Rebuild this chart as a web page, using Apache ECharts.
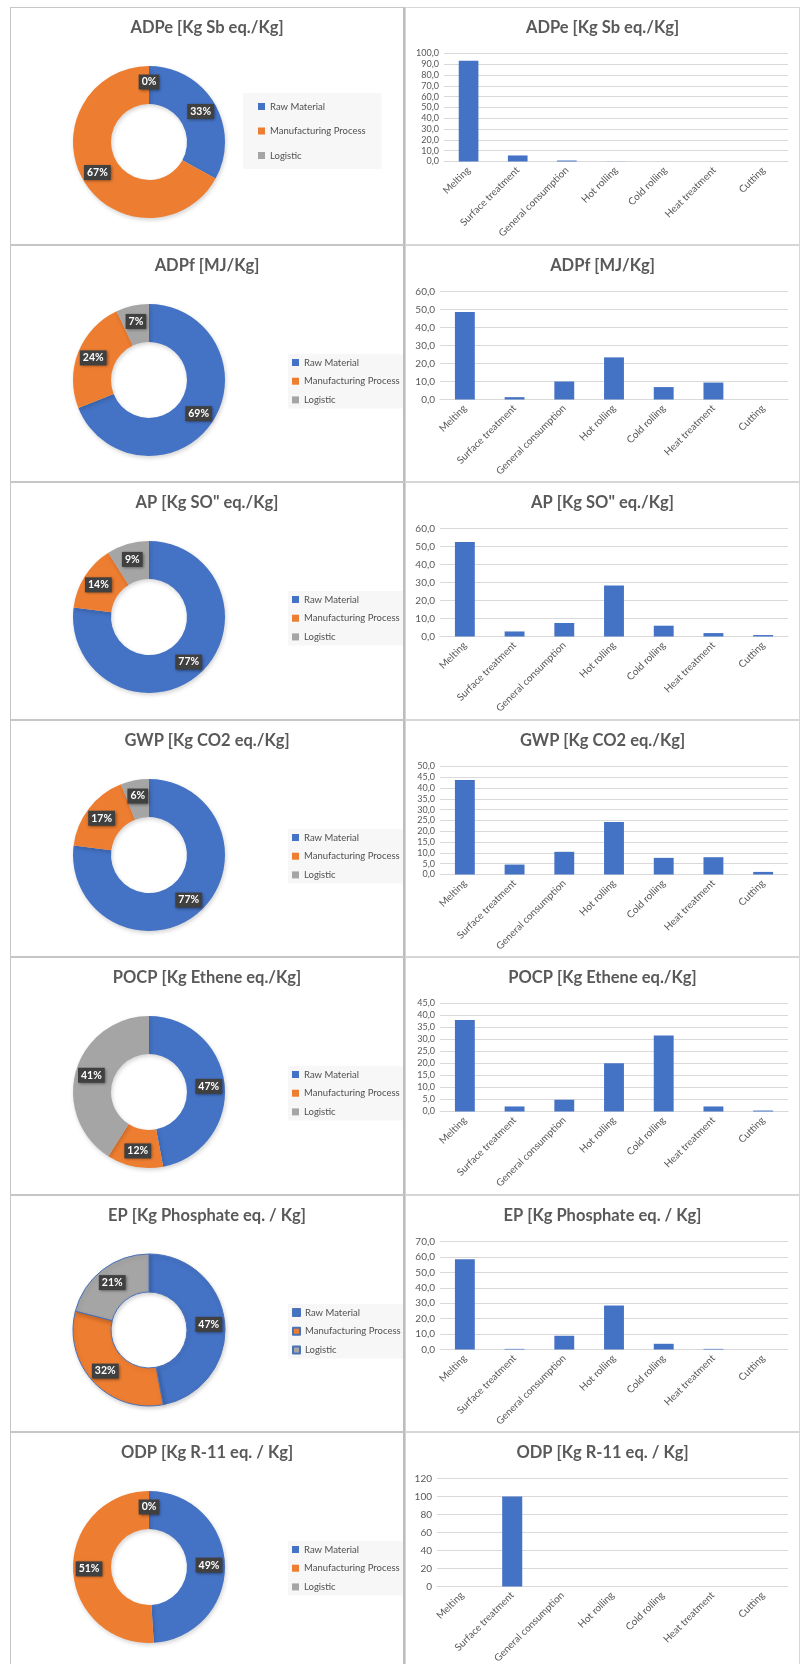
<!DOCTYPE html>
<html>
<head>
<meta charset="utf-8">
<script src="https://cdn.jsdelivr.net/npm/echarts@6/dist/echarts.min.js"></script>
<style>
  html, body { margin: 0; padding: 0; background: #fff; }
  #page { position: relative; width: 802px; height: 1664px; overflow: hidden; background: #fff; }
  .panel { position: absolute; box-sizing: border-box; background: #fff; }
  .left { border: 1px solid #c6c6c6; border-right: 2px solid #bdbdbd; }
  .right { border: 1px solid #d6d6d6; }
  .chart { position: absolute; left: 0; top: 0; }
</style>
</head>
<body>
<div id="page"></div>
<script>
// Process steps shown on every bar chart
const categories = ['Melting', 'Surface treatment', 'General consumption', 'Hot rolling', 'Cold rolling', 'Heat treatment', 'Cutting'];
// Life-cycle stages shown on every donut
const sources = ['Raw Material', 'Manufacturing Process', 'Logistic'];

// Impact category titles
const titles = [
  'ADPe [Kg Sb eq./Kg]',
  'ADPf [MJ/Kg]',
  'AP [Kg SO" eq./Kg]',
  'GWP [Kg CO2 eq./Kg]',
  'POCP [Kg Ethene eq./Kg]',
  'EP [Kg Phosphate eq. / Kg]',
  'ODP [Kg R-11 eq. / Kg]'
];

// Share of each life-cycle stage (%), order follows `sources`
const adpeShares = [33, 67, 0];
const adpfShares = [69, 24, 7];
const apShares   = [77, 14, 9];
const gwpShares  = [77, 17, 6];
const pocpShares = [47, 12, 41];
const epShares   = [47, 32, 21];
const odpShares  = [49, 51, 0];

// Contribution of each process step (%), order follows `categories`
const adpeSteps = [93.4, 5.6, 0.9, 0.1, 0, 0, 0];
const adpfSteps = [48.6, 1.3, 10.0, 23.4, 6.9, 9.4, 0];
const apSteps   = [52.5, 2.8, 7.5, 28.3, 6.0, 1.9, 0.8];
const gwpSteps  = [43.7, 4.6, 10.5, 24.3, 7.7, 8.0, 1.2];
const pocpSteps = [38.1, 2.1, 4.9, 20.1, 31.7, 2.1, 0.4];
const epSteps   = [58.5, 0.4, 8.9, 28.5, 3.7, 0.4, 0];
const odpSteps  = [0, 100, 0, 0, 0, 0, 0];

// Value-axis tick setup for each bar chart
const axisMax      = [100, 60, 60, 50, 45, 70, 120];
const axisInterval = [10, 10, 10, 5, 5, 10, 20];
const axisDecimals = [1, 1, 1, 1, 1, 1, 0];

const shareSets = [adpeShares, adpfShares, apShares, gwpShares, pocpShares, epShares, odpShares];
const stepSets  = [adpeSteps, adpfSteps, apSteps, gwpSteps, pocpSteps, epSteps, odpSteps];

// Layout and styling
const FONT = 'Lato, "Open Sans", sans-serif';
const TEXT = '#595959';
const PALETTE = ['#4472c4', '#ed7d31', '#a5a5a5'];
const ROW_TOP = 7, ROW_H = 237.5;
const LEFT_X = 10, RIGHT_X = 405, PANEL_W = 395;
const gridLeft = [38, 34, 34, 34, 34, 34, 31];
const outlined = [false, false, false, false, false, true, false];

const page = document.getElementById('page');

function makePanel(x, y, cls) {
  const p = document.createElement('div');
  p.className = 'panel ' + cls;
  p.style.left = x + 'px';
  p.style.top = y + 'px';
  p.style.width = PANEL_W + 'px';
  p.style.height = ROW_H + 'px';
  page.appendChild(p);
  const c = document.createElement('div');
  c.className = 'chart';
  c.style.width = p.clientWidth + 'px';
  c.style.height = p.clientHeight + 'px';
  p.appendChild(c);
  return c;
}

function titleOpt(text) {
  return {
    text: text, left: 'center', top: 11, padding: 0,
    textStyle: { fontFamily: FONT, fontSize: 16.5, fontWeight: 'bold', color: TEXT }
  };
}

titles.forEach(function (title, i) {
  const top = ROW_TOP + i * ROW_H;

  // Donut: share by life-cycle stage
  const pieEl = makePanel(LEFT_X, top, 'left');
  const pie = echarts.init(pieEl, null, { renderer: 'canvas' });
  const first = i === 0;
  const itemStyle = {
    shadowColor: 'rgba(0,0,0,0.18)', shadowBlur: 4, shadowOffsetX: 1, shadowOffsetY: 2
  };
  if (outlined[i]) { itemStyle.borderColor = '#4a72b8'; itemStyle.borderWidth = 1; }
  pie.setOption({
    animation: false,
    color: PALETTE,
    title: titleOpt(title),
    legend: {
      orient: 'vertical',
      left: first ? 232 : 277,
      top: first ? 85 : 108,
      padding: first ? [8, 16, 8, 15] : [3, 5, 3, 4],
      itemGap: first ? 13.5 : 7.7,
      itemWidth: 7, itemHeight: 7, icon: 'rect',
      backgroundColor: '#f7f7f7',
      selectedMode: false,
      data: sources,
      textStyle: { fontFamily: FONT, fontSize: 9.5, color: '#505050', lineHeight: 11 }
    },
    series: [{
      type: 'pie',
      center: [138, 134],
      radius: [38, 76],
      startAngle: 90,
      clockwise: true,
      silent: true,
      emphasis: { disabled: true },
      itemStyle: itemStyle,
      labelLine: { show: false },
      label: {
        show: true, position: 'inside', formatter: '{c}%',
        fontFamily: FONT, fontSize: 10.5, fontWeight: 'bold', color: '#fff', lineHeight: 11,
        backgroundColor: '#404040', padding: [2, 3, 2, 3],
        shadowColor: 'rgba(0,0,0,0.5)', shadowBlur: 3, shadowOffsetX: 1, shadowOffsetY: 1
      },
      data: sources.map(function (n, k) { return { name: n, value: shareSets[i][k] }; })
    }]
  });

  // Column chart: contribution by process step
  const barEl = makePanel(RIGHT_X, top, 'right');
  const bar = echarts.init(barEl, null, { renderer: 'canvas' });
  const dec = axisDecimals[i];
  const tickCount = axisMax[i] / axisInterval[i] + 1;
  bar.setOption({
    animation: false,
    title: titleOpt(title),
    grid: { left: gridLeft[i], right: 11, top: 45.5, bottom: 82.5 },
    xAxis: {
      type: 'category',
      data: categories,
      axisLine: { lineStyle: { color: '#d9d9d9', width: 1 } },
      axisTick: { show: false },
      axisLabel: { interval: 0, rotate: 45, margin: 7, fontFamily: FONT, fontSize: 10, color: TEXT }
    },
    yAxis: {
      type: 'value',
      min: 0, max: axisMax[i], interval: axisInterval[i],
      axisLine: { show: false },
      axisTick: { show: false },
      splitLine: { lineStyle: { color: '#d9d9d9', width: 1 } },
      axisLabel: {
        margin: 5, fontFamily: FONT, fontSize: tickCount > 9 ? 9 : 10, color: TEXT,
        formatter: function (v) { return v.toFixed(dec).replace('.', ','); }
      }
    },
    series: [{
      type: 'bar',
      data: stepSets[i],
      barWidth: '40%',
      silent: true,
      itemStyle: { color: '#4472c4' }
    }]
  });
});
</script>
</body>
</html>
